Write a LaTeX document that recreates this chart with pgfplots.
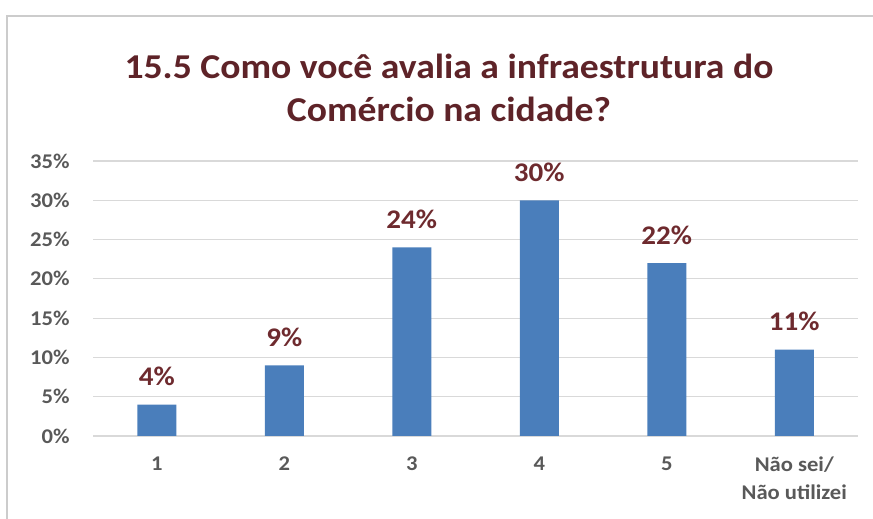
\documentclass[border=0pt]{standalone}
\usepackage{fontspec}
\setmainfont[FakeStretch=1.08]{Carlito}
\usepackage{pgfplots}
\pgfplotsset{compat=1.18}
\definecolor{titlered}{HTML}{5E2328}
\definecolor{labelred}{HTML}{6E2A2E}
\definecolor{barblue}{HTML}{4A7EBB}
\definecolor{ticktext}{HTML}{595959}
\definecolor{gridgray}{HTML}{D9D9D9}

\begin{document}
\begin{tikzpicture}[x=1bp,y=1bp]
\useasboundingbox (0,0) rectangle (873,519);
% frame of the chart area (cropped at right and bottom)
\draw[gray!40, line width=1.2bp] (7,0) -- (7,503) -- (873,503);
% title
\node[anchor=base, text=titlered, font=\fontsize{35}{40}\selectfont\bfseries]
  at (449,440) {15.5 Como você avalia a infraestrutura do};
\node[anchor=base, text=titlered, font=\fontsize{35}{40}\selectfont\bfseries]
  at (449,397) {Comércio na cidade?};
\begin{axis}[
  at={(93bp,83bp)}, anchor=south west,
  scale only axis, width=765bp, height=275bp,
  ybar, bar width=39bp,
  xmin=-0.5, xmax=5.5,
  ymin=0, ymax=35,
  xtick=data,
  xticklabels={1,2,3,4,5,{Não sei/\\Não utilizei}},
  xticklabel style={align=center, font=\fontsize{21}{28}\selectfont\bfseries,
    text=ticktext, yshift=-17bp},
  ytick={0,5,...,35},
  yticklabel={\pgfmathprintnumber{\tick}\%},
  yticklabel style={font=\fontsize{21}{24}\selectfont\bfseries, text=ticktext,
    xshift=-20bp},
  /pgf/number format/assume math mode=true,
  axis line style={draw=none},
  major tick length=0pt,
  ymajorgrids, grid style={draw=gridgray, line width=1.2bp},
  nodes near coords={\pgfmathprintnumber{\pgfplotspointmeta}\%},
  nodes near coords style={font=\fontsize{27}{30}\selectfont\bfseries,
    text=labelred, anchor=base, yshift=19bp},
  clip=false,
]
\addplot[draw=none, fill=barblue] coordinates
  {(0,4) (1,9) (2,24) (3,30) (4,22) (5,11)};
\end{axis}
\end{tikzpicture}
\end{document}
